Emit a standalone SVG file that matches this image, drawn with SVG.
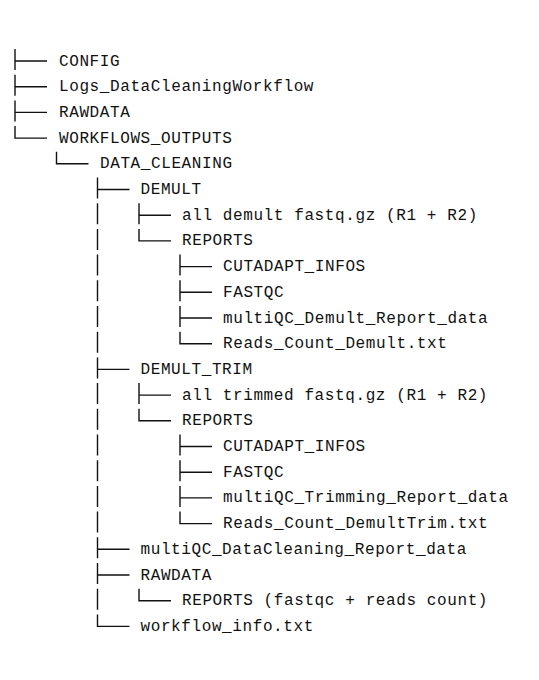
<svg xmlns="http://www.w3.org/2000/svg" width="539" height="680" viewBox="0 0 539 680">
<style>
  .t { font-family: "Liberation Mono", "DejaVu Sans Mono", monospace; font-size: 16px; letter-spacing: 0.6px; fill: #111; }
  .c { fill: none; stroke: #111; stroke-width: 1.4; }
</style>
<rect width="539" height="680" fill="#fff"/>
<g id="connectors" class="c">
  <path d="M15 49V70M15 61H47"/>
  <path d="M15 74.7V95.7M15 86.7H47"/>
  <path d="M15 100.4V121.4M15 112.4H47"/>
  <path d="M15 126.1V138.1H47"/>
  <path d="M56.5 151.8V163.8H88.5"/>
  <path d="M97.5 177.5V198.5M97.5 189.5H129.5"/>
  <path d="M97.5 203.2V224.2M139 203.2V224.2M139 215.2H171"/>
  <path d="M97.5 228.9V249.9M139 228.9V240.9H171"/>
  <path d="M97.5 254.6V275.6M180 254.6V275.6M180 266.6H212"/>
  <path d="M97.5 280.3V301.3M180 280.3V301.3M180 292.3H212"/>
  <path d="M97.5 306V327M180 306V327M180 318H212"/>
  <path d="M97.5 331.7V352.7M180 331.7V343.7H212"/>
  <path d="M97.5 357.4V378.4M97.5 369.4H129.5"/>
  <path d="M97.5 383.1V404.1M139 383.1V404.1M139 395.1H171"/>
  <path d="M97.5 408.8V429.8M139 408.8V420.8H171"/>
  <path d="M97.5 434.5V455.5M180 434.5V455.5M180 446.5H212"/>
  <path d="M97.5 460.2V481.2M180 460.2V481.2M180 472.2H212"/>
  <path d="M97.5 485.9V506.9M180 485.9V506.9M180 497.9H212"/>
  <path d="M97.5 511.6V532.6M180 511.6V523.6H212"/>
  <path d="M97.5 537.3V558.3M97.5 549.3H129.5"/>
  <path d="M97.5 563V584M97.5 575H129.5"/>
  <path d="M97.5 588.7V609.7M139 588.7V600.7H171"/>
  <path d="M97.5 614.4V626.4H129.5"/>
</g>
<g id="config"><text class="t" x="59" y="65.5">CONFIG</text></g>
<g id="logs"><text class="t" x="59" y="91.2">Logs_DataCleaningWorkflow</text></g>
<g id="rawdata"><text class="t" x="59" y="116.9">RAWDATA</text></g>
<g id="workflows_outputs"><text class="t" x="59" y="142.6">WORKFLOWS_OUTPUTS</text></g>
<g id="data_cleaning"><text class="t" x="100" y="168.3">DATA_CLEANING</text></g>
<g id="demult"><text class="t" x="140.5" y="194">DEMULT</text></g>
<g id="demult_fastq"><text class="t" x="182" y="219.7">all demult fastq.gz (R1 + R2)</text></g>
<g id="demult_reports"><text class="t" x="182" y="245.4">REPORTS</text></g>
<g id="demult_cutadapt"><text class="t" x="223" y="271.1">CUTADAPT_INFOS</text></g>
<g id="demult_fastqc"><text class="t" x="223" y="296.8">FASTQC</text></g>
<g id="demult_multiqc"><text class="t" x="223" y="322.5">multiQC_Demult_Report_data</text></g>
<g id="demult_reads"><text class="t" x="223" y="348.2">Reads_Count_Demult.txt</text></g>
<g id="demult_trim"><text class="t" x="140.5" y="373.9">DEMULT_TRIM</text></g>
<g id="trim_fastq"><text class="t" x="182" y="399.6">all trimmed fastq.gz (R1 + R2)</text></g>
<g id="trim_reports"><text class="t" x="182" y="425.3">REPORTS</text></g>
<g id="trim_cutadapt"><text class="t" x="223" y="451">CUTADAPT_INFOS</text></g>
<g id="trim_fastqc"><text class="t" x="223" y="476.7">FASTQC</text></g>
<g id="trim_multiqc"><text class="t" x="223" y="502.4">multiQC_Trimming_Report_data</text></g>
<g id="trim_reads"><text class="t" x="223" y="528.1">Reads_Count_DemultTrim.txt</text></g>
<g id="dc_multiqc"><text class="t" x="140.5" y="553.8">multiQC_DataCleaning_Report_data</text></g>
<g id="dc_rawdata"><text class="t" x="140.5" y="579.5">RAWDATA</text></g>
<g id="dc_rawdata_reports"><text class="t" x="182" y="605.2">REPORTS (fastqc + reads count)</text></g>
<g id="workflow_info"><text class="t" x="140.5" y="630.9">workflow_info.txt</text></g>
</svg>
